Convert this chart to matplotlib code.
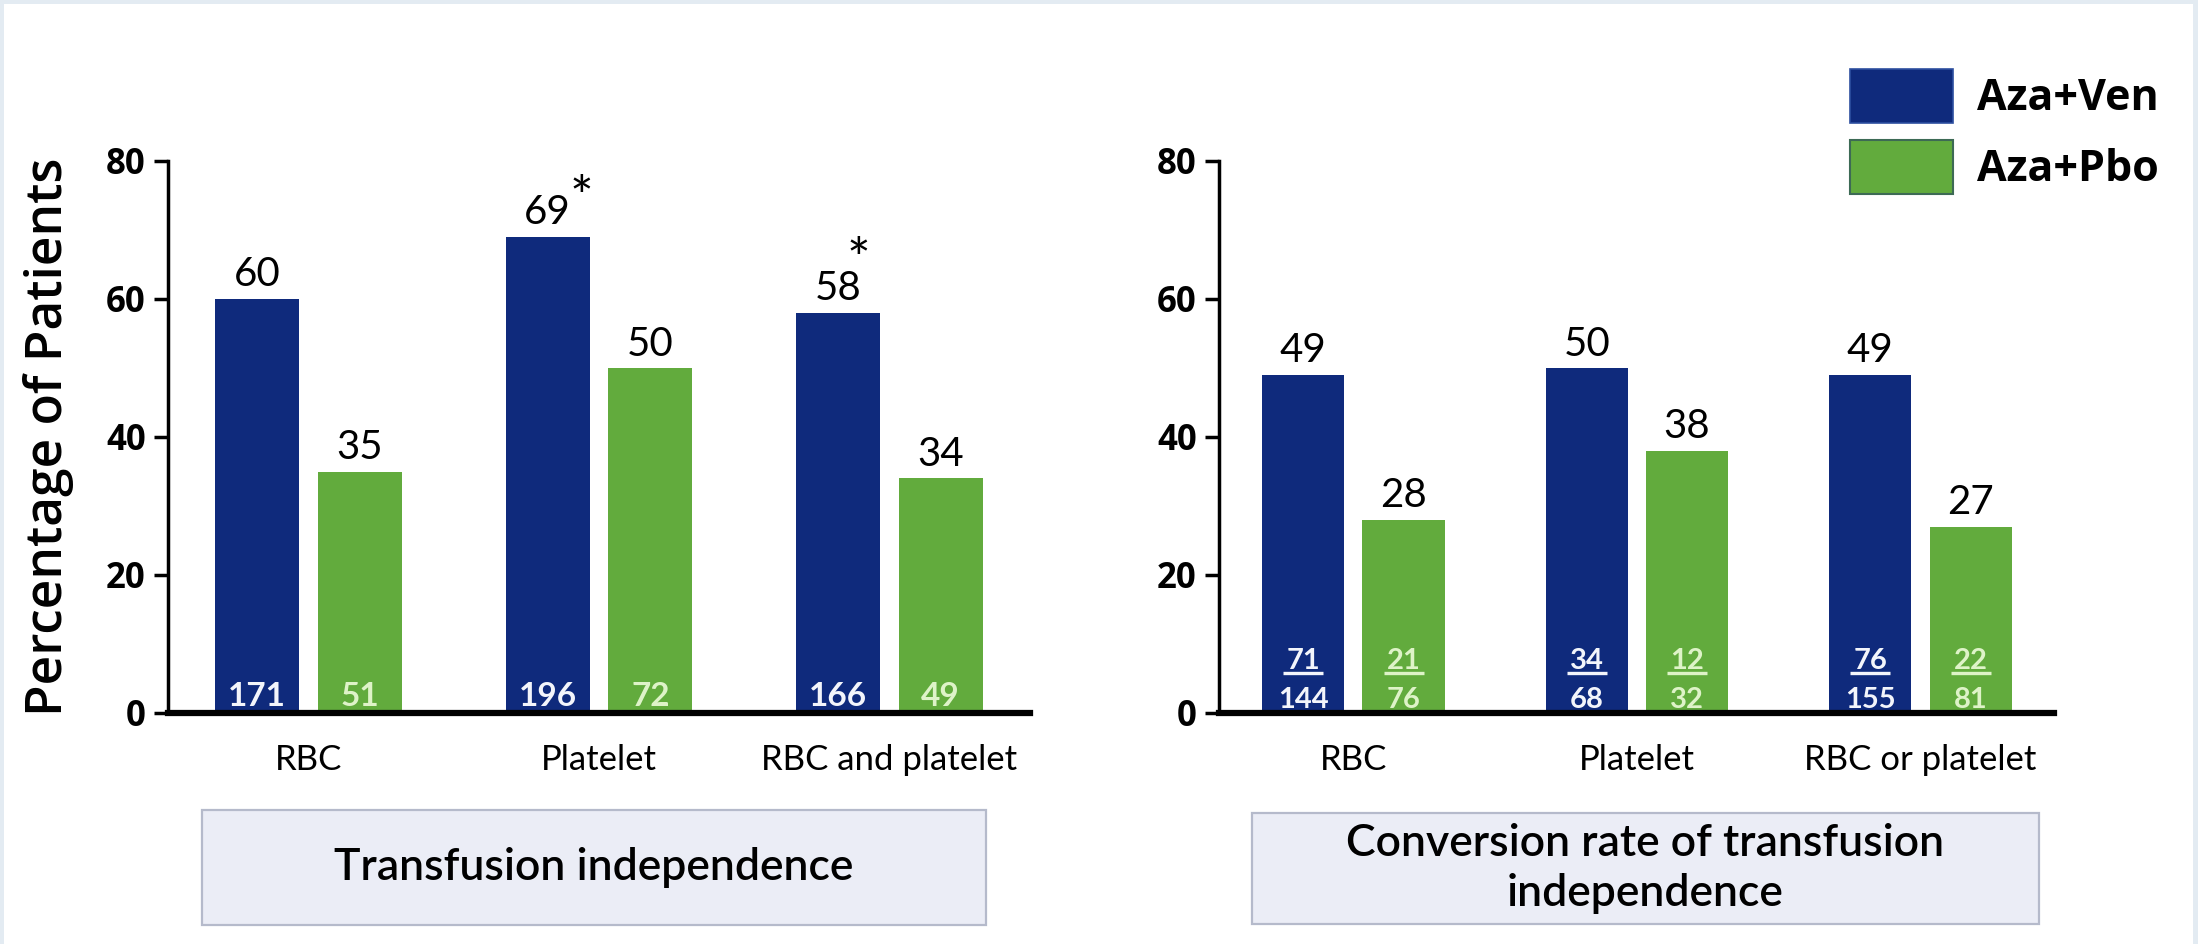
import matplotlib
matplotlib.use("Agg")
import matplotlib.pyplot as plt
from matplotlib.patches import Rectangle, Patch
from matplotlib.lines import Line2D
import numpy as np

# ---- data -------------------------------------------------------------
ti_categories = ["RBC", "Platelet", "RBC and platelet"]
ti_ven = [60, 69, 58]
ti_pbo = [35, 50, 34]
ti_ven_n = [171, 196, 166]
ti_pbo_n = [51, 72, 49]
ti_ven_sig = [False, True, True]

cr_categories = ["RBC", "Platelet", "RBC or platelet"]
cr_ven = [49, 50, 49]
cr_pbo = [28, 38, 27]
cr_ven_num = [71, 34, 76]
cr_ven_den = [144, 68, 155]
cr_pbo_num = [21, 12, 22]
cr_pbo_den = [76, 32, 81]

series_labels = ["Aza+Ven", "Aza+Pbo"]
panel_titles = ["Transfusion independence",
                "Conversion rate of transfusion\nindependence"]
y_label = "Percentage of Patients"
y_ticks = [0, 20, 40, 60, 80]

# ---- style ------------------------------------------------------------
BLUE = "#0f2a7c"
GREEN = "#62ab3d"
BLUE_TXT = "#f3f5fb"
GREEN_TXT = "#def3c8"
LABEL_FONT = "Lato"
AXIS_FONT = "Open Sans"

W, H = 2198, 944
fig = plt.figure(figsize=(W / 100, H / 100), dpi=100)
fig.patch.set_facecolor("#e3ebf2")
fig.patches.append(Rectangle((4 / W, 0), (2193 - 4) / W, 1 - 4 / H,
                             transform=fig.transFigure, facecolor="white",
                             edgecolor="none", zorder=-10))


def fx(px):
    return px / W


def fy(py):
    return 1 - py / H


ax1 = fig.add_axes([fx(168), fy(713), (1030 - 168) / W, (713 - 161) / H])
ax2 = fig.add_axes([fx(1219), fy(713), (2054 - 1219) / W, (713 - 161) / H])

BW = 0.29
OFF = 0.177


def style_axes(ax, cats, xl):
    ax.set_ylim(0, 80)
    ax.set_xlim(*xl)
    ax.set_yticks(y_ticks)
    ax.set_yticklabels([str(t) for t in y_ticks], fontfamily=AXIS_FONT,
                       fontweight="bold", fontsize=25)
    ax.tick_params(axis="y", length=10, width=2.5, pad=6, colors="black")
    ax.set_xticks(range(len(cats)))
    ax.set_xticklabels(cats, fontfamily=LABEL_FONT, fontsize=25)
    ax.tick_params(axis="x", length=0, pad=22)
    for s in ("top", "right"):
        ax.spines[s].set_visible(False)
    ax.spines["left"].set_linewidth(2.5)
    ax.spines["bottom"].set_linewidth(4.5)
    ax.spines["bottom"].set_zorder(5)
    ax.set_facecolor("none")


def value_labels(ax, xs, vals):
    for x, v in zip(xs, vals):
        ax.annotate(str(v), (x, v), xytext=(0, 9), textcoords="offset points",
                    ha="center", va="baseline", fontsize=29,
                    fontfamily=LABEL_FONT, color="black")


x = np.arange(3)

# ---- left panel: transfusion independence -----------------------------
style_axes(ax1, ti_categories, (-0.4845, 2.4845))
ax1.bar(x - OFF, ti_ven, BW, color=BLUE, zorder=2)
ax1.bar(x + OFF, ti_pbo, BW, color=GREEN, zorder=2)
value_labels(ax1, x - OFF, ti_ven)
value_labels(ax1, x + OFF, ti_pbo)
star_offsets = {1: (24, 15), 2: (15, 25)}
for i, sig in enumerate(ti_ven_sig):
    if sig:
        dx, dy = star_offsets[i]
        ax1.annotate("*", (x[i] - OFF, ti_ven[i]), xytext=(dx, dy),
                     textcoords="offset points", ha="center", va="baseline",
                     fontsize=40, fontfamily=LABEL_FONT, color="black")
for xi, n in zip(x - OFF, ti_ven_n):
    ax1.annotate(str(n), (xi, 0), xytext=(0, 5), textcoords="offset points",
                 ha="center", va="baseline", fontsize=24, fontweight="bold",
                 fontfamily=LABEL_FONT, color=BLUE_TXT, zorder=6)
for xi, n in zip(x + OFF, ti_pbo_n):
    ax1.annotate(str(n), (xi, 0), xytext=(0, 5), textcoords="offset points",
                 ha="center", va="baseline", fontsize=24, fontweight="bold",
                 fontfamily=LABEL_FONT, color=GREEN_TXT, zorder=6)

# ---- right panel: conversion rate ------------------------------------
style_axes(ax2, cr_categories, (-0.474, 2.471))
ax2.bar(x - OFF, cr_ven, BW, color=BLUE, zorder=2)
ax2.bar(x + OFF, cr_pbo, BW, color=GREEN, zorder=2)
value_labels(ax2, x - OFF, cr_ven)
value_labels(ax2, x + OFF, cr_pbo)

numerators = []
for xs, nums, dens, col in ((x - OFF, cr_ven_num, cr_ven_den, BLUE_TXT),
                            (x + OFF, cr_pbo_num, cr_pbo_den, GREEN_TXT)):
    for xi, nu, de in zip(xs, nums, dens):
        t = ax2.annotate(str(nu), (xi, 0), xytext=(0, 32),
                         textcoords="offset points", ha="center",
                         va="baseline", fontsize=21, fontweight="bold",
                         fontfamily=LABEL_FONT, color=col, zorder=6)
        ax2.annotate(str(de), (xi, 0), xytext=(0, 3.5),
                     textcoords="offset points", ha="center", va="baseline",
                     fontsize=21, fontweight="bold", fontfamily=LABEL_FONT,
                     color=col, zorder=6)
        numerators.append((t, col))

# fraction bars under each numerator
fig.canvas.draw()
renderer = fig.canvas.get_renderer()
for t, col in numerators:
    bb = t.get_window_extent(renderer)
    cx = (bb.x0 + bb.x1) / 2
    half = (bb.x1 - bb.x0) / 2 + 3
    base_y = ax2.transData.transform((0, 0))[1] + 28.5 / 72 * fig.dpi
    fig.lines.append(Line2D([fx(cx - half), fx(cx + half)],
                            [base_y / H, base_y / H],
                            transform=fig.transFigure, color=col,
                            linewidth=2.4, solid_capstyle="butt", zorder=7))

# ---- y label ------------------------------------------------------------
fig.text(fx(49), fy(437), y_label, rotation=90, ha="center", va="center",
         fontsize=37, fontfamily=AXIS_FONT, fontweight="semibold")

# ---- panel title boxes ----------------------------------------------------
boxes = [(202, 810, 986, 925), (1252, 813, 2039, 924)]
for (x0, y0, x1, y1), title in zip(boxes, panel_titles):
    fig.patches.append(Rectangle((fx(x0), fy(y1)), (x1 - x0) / W,
                                 (y1 - y0) / H, transform=fig.transFigure,
                                 facecolor="#ebedf6", edgecolor="#b5bacb",
                                 linewidth=1.6, zorder=1))
    fig.text(fx((x0 + x1) / 2), fy((y0 + y1) / 2), title, ha="center",
             va="center", fontsize=32, fontfamily=LABEL_FONT,
             fontweight="semibold", linespacing=1.25, zorder=2)

# ---- legend ---------------------------------------------------------------
handles = [Patch(facecolor=BLUE, edgecolor="#2d4fa0", linewidth=1.2),
           Patch(facecolor=GREEN, edgecolor="#3d6a55", linewidth=1.5)]
fig.legend(handles, series_labels, loc="upper left",
           bbox_to_anchor=(fx(1850), fy(69)), frameon=False, borderpad=0,
           borderaxespad=0, handlelength=2.4, handleheight=1.55,
           labelspacing=0.4, handletextpad=0.55,
           prop={"family": AXIS_FONT, "weight": "bold", "size": 31})

fig.savefig("out.png", dpi=100, facecolor=fig.get_facecolor())
